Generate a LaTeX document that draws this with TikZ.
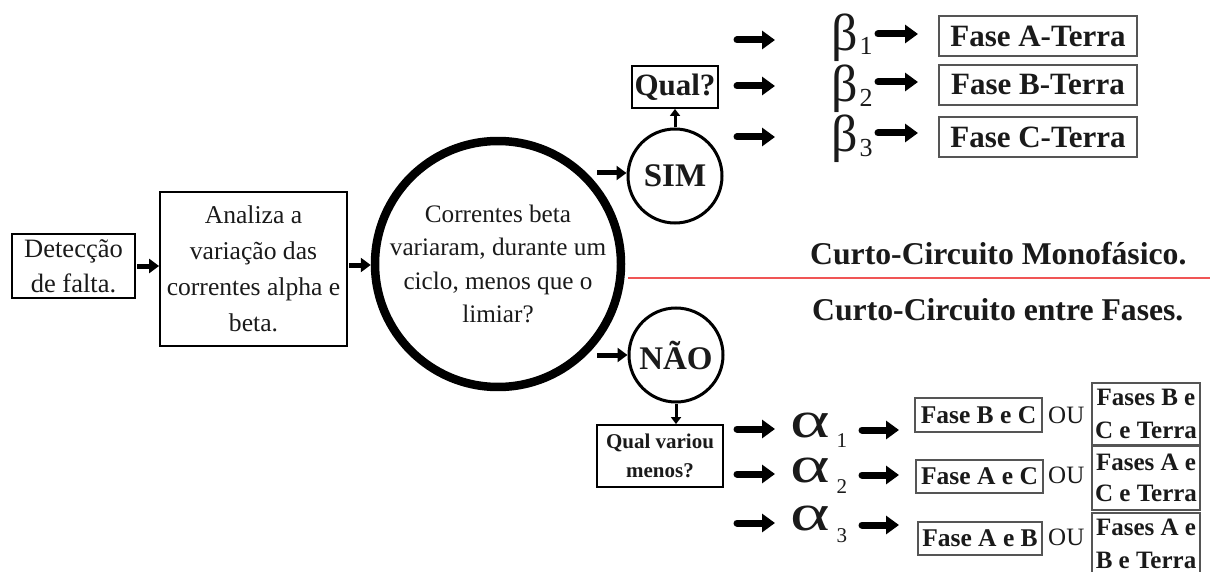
\documentclass[tikz,border=0pt]{standalone}
\usepackage{fontspec}
\setmainfont{Liberation Serif}
\usetikzlibrary{arrows.meta}
\definecolor{txt}{HTML}{1A1A1A}
\definecolor{redline}{HTML}{F05555}
\definecolor{boxgray}{HTML}{555555}
\tikzset{
  box/.style={draw=black, line width=1.8pt, rectangle, inner sep=0pt, align=center, text=txt},
  gbox/.style={draw=boxgray, line width=1.4pt, rectangle, inner sep=0pt, align=center, text=txt},
  bigc/.style={draw=black, line width=8.5pt, circle, inner sep=0pt, align=center, text=txt},
  smallc/.style={draw=black, line width=3pt, circle, inner sep=0pt, align=center, text=txt,
     minimum size=94pt, font=\bfseries\fontsize{33}{33}\selectfont},
  bigarrow/.style={line width=7pt, line cap=round, -{Triangle[length=13pt,width=18pt]}},
  midarrow/.style={line width=5pt, -{Triangle[length=10pt,width=14pt]}},
  thinarrow/.style={line width=3pt, -{Triangle[length=7pt,width=10pt]}},
  lbl/.style={inner sep=0pt, anchor=base west, text=txt},
}
\newcommand{\betasub}[2]{{\fontsize{52}{52}\selectfont β}\hspace{2pt}\raisebox{#1}{\fontsize{26}{26}\selectfont #2}}
\newcommand{\alphasub}[2]{{\fontsize{52}{52}\selectfont\scalebox{1.45}[1]{α}}\hspace{7pt}\raisebox{#1}{\fontsize{21}{21}\selectfont #2}}
\begin{document}
\begin{tikzpicture}[x=1pt,y=-1pt]
\fill[white] (0,0) rectangle (1210,572);
\useasboundingbox (0,0) rectangle (1210,572);

% left part
\node[box, minimum width=123pt, minimum height=64pt, font=\fontsize{26.5}{35}\selectfont] (det) at (73.5,266) {Detecção\\de falta.};
\node[box, minimum width=187pt, minimum height=154pt, font=\fontsize{25.6}{36}\selectfont] (ana) at (253.5,269) {Analiza a\\variação das\\correntes alpha e\\beta.};
\node[bigc, minimum size=240pt, font=\fontsize{25.2}{33.3}\selectfont] (cir) at (498,264) {Correntes beta\\variaram, durante um\\ciclo, menos que o\\limiar?};
\coordinate (d1) at (137,266);
\coordinate (a1) at (349,265);
\draw[midarrow] (d1) -- (ana.west |- d1);
\draw[midarrow] (a1) -- (cir.west |- a1);

% SIM / NAO
\node[smallc] (sim) at (675,176) {SIM};
\node[smallc] (nao) at (676,355) {NÃO};
\coordinate (sIn) at (597,173);
\coordinate (nIn) at (597,355);
\draw[midarrow] (sIn) -- (sIn -| sim.west);
\draw[midarrow] (nIn) -- (nIn -| nao.west);

\node[box, minimum width=86pt, minimum height=42pt, font=\bfseries\fontsize{31}{31}\selectfont] (qual) at (675,87) {Qual?};
\draw[thinarrow] (sim.north) -- (qual.south);

\coordinate (q1s) at (737,40);
\coordinate (q2s) at (737,86);
\coordinate (q3s) at (737,137);
\draw[bigarrow] (q1s) -- ++(38,0);
\draw[bigarrow] (q2s) -- ++(38,0);
\draw[bigarrow] (q3s) -- ++(38,0);

\node[lbl] (b1) at (831,51) {\betasub{-4pt}{1}};
\node[lbl] (b2) at (831,102) {\betasub{-5pt}{2}};
\node[lbl] (b3) at (831,152) {\betasub{-5pt}{3}};

\node[gbox, minimum width=198pt, minimum height=40pt, font=\bfseries\fontsize{31}{31}\selectfont] (fa) at (1038,36) {Fase A-Terra};
\node[gbox, minimum width=198pt, minimum height=40pt, font=\bfseries\fontsize{31}{31}\selectfont] (fb) at (1038,85) {Fase B-Terra};
\node[gbox, minimum width=198pt, minimum height=40pt, font=\bfseries\fontsize{31}{31}\selectfont] (fc) at (1038,137) {Fase C-Terra};
\coordinate (r1s) at (878,34);
\coordinate (r2s) at (878,82);
\coordinate (r3s) at (878,133);
\draw[bigarrow] (r1s) -- ++(40,0);
\draw[bigarrow] (r2s) -- ++(40,0);
\draw[bigarrow] (r3s) -- ++(40,0);

% red line and titles
\coordinate (rl) at (628,278);
\coordinate (rr) at (1210,278);
\draw[redline, line width=2.2pt] (rl) -- (rr);
\node[lbl, font=\bfseries\fontsize{31.7}{32}\selectfont] (mono) at (810,265) {Curto-Circuito Monofásico.};
\node[lbl, font=\bfseries\fontsize{31.7}{32}\selectfont] (entre) at (812,320) {Curto-Circuito entre Fases.};

% NAO branch
\node[box, minimum width=126pt, minimum height=62pt, font=\bfseries\fontsize{21}{29}\selectfont] (qv) at (660,456) {Qual variou\\menos?};
\draw[thinarrow] (nao.south) -- (nao.south |- qv.north);

\coordinate (p1s) at (737,429);
\coordinate (p2s) at (737,474);
\coordinate (p3s) at (737,523);
\draw[bigarrow] (p1s) -- ++(38,0);
\draw[bigarrow] (p2s) -- ++(38,0);
\draw[bigarrow] (p3s) -- ++(38,0);

\node[lbl] (a1n) at (790,437) {\alphasub{-10pt}{1}};
\node[lbl] (a2n) at (790,482) {\alphasub{-11pt}{2}};
\node[lbl] (a3n) at (790,530) {\alphasub{-12pt}{3}};

\coordinate (t1s) at (862,430);
\coordinate (t2s) at (862,475);
\coordinate (t3s) at (862,525);
\draw[bigarrow] (t1s) -- ++(37,0);
\draw[bigarrow] (t2s) -- ++(37,0);
\draw[bigarrow] (t3s) -- ++(37,0);

\node[gbox, minimum width=127pt, minimum height=34pt, font=\bfseries\fontsize{25.5}{25}\selectfont] (bc) at (978.5,415) {Fase B e C};
\node[gbox, minimum width=127pt, minimum height=33pt, font=\bfseries\fontsize{25.5}{25}\selectfont] (ac) at (979.5,476.5) {Fase A e C};
\node[gbox, minimum width=124pt, minimum height=33pt, font=\bfseries\fontsize{25.5}{25}\selectfont] (ab) at (980,538.5) {Fase A e B};

\node[lbl, font=\fontsize{25}{25}\selectfont] (ou1) at (1048,423) {OU};
\node[lbl, font=\fontsize{25}{25}\selectfont] (ou2) at (1048,483) {OU};
\node[lbl, font=\fontsize{25}{25}\selectfont] (ou3) at (1048,545) {OU};

\node[gbox, minimum width=108pt, minimum height=62pt, font=\bfseries\fontsize{25}{33}\selectfont] (bct) at (1146,414) {Fases B e\\C e Terra};
\node[gbox, minimum width=108pt, minimum height=64pt, font=\bfseries\fontsize{25}{31}\selectfont] (act) at (1146,478) {Fases A e\\C e Terra};
\node[gbox, minimum width=108pt, minimum height=62pt, font=\bfseries\fontsize{25}{33}\selectfont] (abt) at (1146,544) {Fases A e\\B e Terra};
\end{tikzpicture}
\end{document}
